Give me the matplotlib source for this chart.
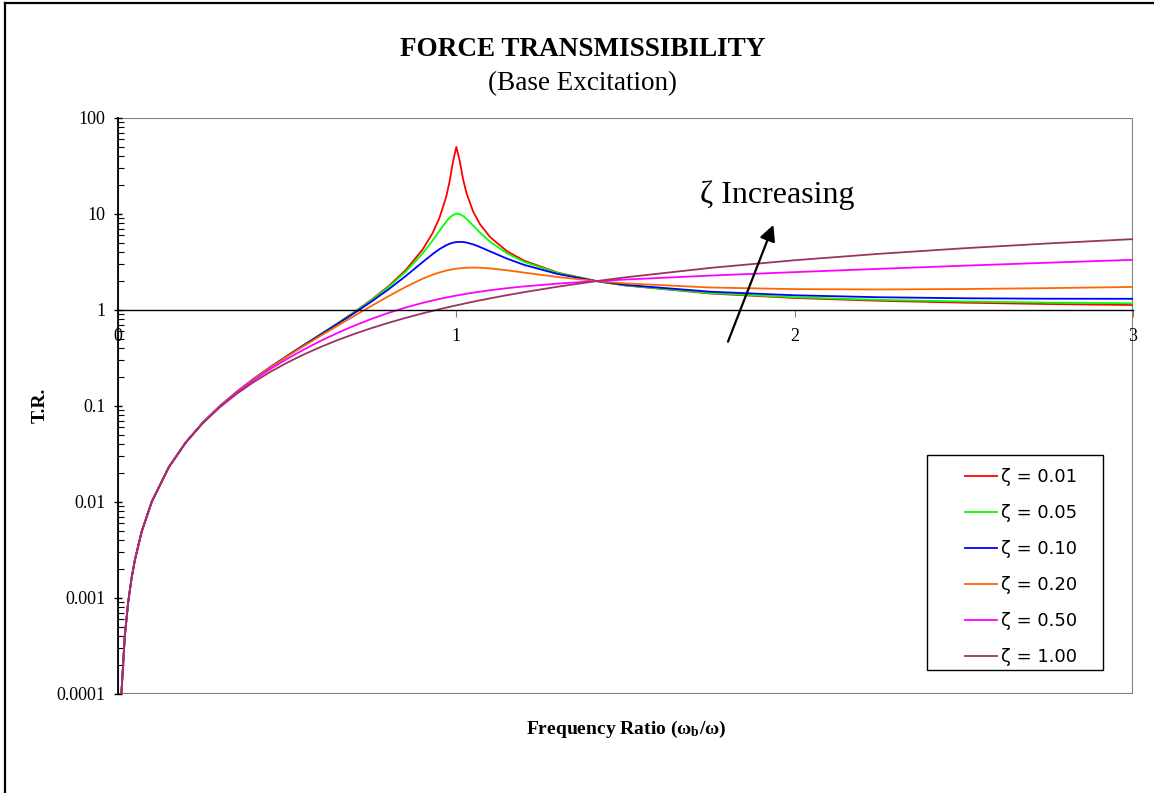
import numpy as np
import matplotlib.pyplot as plt
from matplotlib.patches import Rectangle
from matplotlib.lines import Line2D
from matplotlib.ticker import LogLocator, FixedLocator, FixedFormatter

plt.rcParams['mathtext.fontset'] = 'custom'
plt.rcParams['mathtext.rm'] = 'Liberation Serif'
plt.rcParams['mathtext.bf'] = 'Liberation Serif:bold'
plt.rcParams['mathtext.it'] = 'Liberation Serif:italic'

# frequency ratio values used for every curve
ratio = [0.01, 0.02, 0.03, 0.04, 0.05, 0.07, 0.1, 0.15, 0.2, 0.25, 0.3, 0.35, 0.4, 0.45,
         0.5, 0.55, 0.6, 0.65, 0.7, 0.75, 0.8, 0.85, 0.9, 0.93, 0.95, 0.97, 0.98, 0.99,
         1.0, 1.01, 1.02, 1.03, 1.05, 1.07, 1.1, 1.15, 1.2, 1.3, 1.414, 1.5, 1.75, 2.0,
         2.25, 2.5, 2.75, 3.0]

# transmissibility, one list per damping ratio
tr_001 = [0.0001, 0.0004, 0.0009, 0.0016, 0.0025, 0.00492, 0.0101, 0.0230, 0.0417, 0.0667,
          0.0989, 0.1396, 0.1905, 0.2539, 0.3333, 0.4337, 0.5624, 0.7315, 0.9605, 1.285,
          1.776, 2.599, 4.245, 6.343, 9.087, 15.13, 21.74, 34.92, 50.01, 35.81, 22.99,
          16.51, 10.54, 7.818, 5.732, 4.090, 3.269, 2.448, 2.0, 1.800, 1.486, 1.334, 1.247,
          1.192, 1.154, 1.127]
tr_005 = [0.0001, 0.0004, 0.0009, 0.0016, 0.0025, 0.00492, 0.0101, 0.0230, 0.0417, 0.0667,
          0.0989, 0.1396, 0.1904, 0.2538, 0.3330, 0.4330, 0.5611, 0.7285, 0.9542, 1.271,
          1.741, 2.498, 3.868, 5.296, 6.660, 8.323, 9.130, 9.753, 10.05, 9.956, 9.533,
          8.913, 7.555, 6.392, 5.135, 3.888, 3.180, 2.427, 2.0, 1.807, 1.502, 1.357, 1.275,
          1.226, 1.194, 1.174]
tr_010 = [0.0001, 0.0004, 0.0009, 0.0016, 0.0025, 0.00492, 0.0101, 0.0230, 0.0417, 0.0667,
          0.0989, 0.1395, 0.1902, 0.2533, 0.3321, 0.4310, 0.5568, 0.7197, 0.9355, 1.230,
          1.645, 2.252, 3.145, 3.827, 4.302, 4.726, 4.894, 5.021, 5.099, 5.127, 5.106,
          5.042, 4.821, 4.530, 4.074, 3.426, 2.955, 2.368, 2.0, 1.827, 1.551, 1.423, 1.358,
          1.325, 1.311, 1.308]
tr_020 = [0.0001, 0.0004, 0.0009, 0.0016, 0.0025, 0.00492, 0.0101, 0.0230, 0.0417, 0.0666,
          0.0988, 0.1392, 0.1895, 0.2517, 0.3285, 0.4235, 0.5416, 0.6893, 0.8746, 1.107,
          1.395, 1.739, 2.115, 2.332, 2.461, 2.572, 2.618, 2.659, 2.693, 2.720, 2.741,
          2.755, 2.766, 2.756, 2.712, 2.591, 2.453, 2.205, 2.0, 1.892, 1.716, 1.650, 1.637,
          1.654, 1.690, 1.738]
tr_050 = [0.0001, 0.0004, 0.0009, 0.0016, 0.0025, 0.00492, 0.0101, 0.0230, 0.0416, 0.0664,
          0.0981, 0.1374, 0.1852, 0.2425, 0.3101, 0.3887, 0.4786, 0.5796, 0.6906, 0.8098,
          0.9343, 1.061, 1.185, 1.257, 1.304, 1.349, 1.371, 1.393, 1.414, 1.435, 1.456,
          1.476, 1.515, 1.553, 1.606, 1.688, 1.760, 1.883, 2.0, 2.077, 2.282, 2.481, 2.684,
          2.894, 3.110, 3.331]
tr_100 = [0.0001, 0.0004, 0.0009, 0.0016, 0.0025, 0.00492, 0.0101, 0.0230, 0.0414, 0.0658,
          0.0963, 0.1332, 0.1766, 0.2266, 0.2828, 0.3453, 0.4135, 0.4871, 0.5658, 0.6490,
          0.7363, 0.8273, 0.9215, 0.9794, 1.019, 1.058, 1.078, 1.098, 1.118, 1.138, 1.158,
          1.179, 1.220, 1.261, 1.323, 1.428, 1.534, 1.750, 2.0, 2.189, 2.744, 3.299, 3.849,
          4.396, 4.937, 5.475]

series = [tr_001, tr_005, tr_010, tr_020, tr_050, tr_100]
labels = ['\u03b6 = 0.01', '\u03b6 = 0.05', '\u03b6 = 0.10', '\u03b6 = 0.20', '\u03b6 = 0.50', '\u03b6 = 1.00']
colors = ['#FF0000', '#00FF00', '#0000FF', '#FF6600', '#FF00FF', '#993366']

serif = 'Liberation Serif'
W, H = 1154, 793

fig = plt.figure(figsize=(11.54, 7.93), dpi=100)
ax = fig.add_axes([118/W, 1 - 694/H, (1133 - 118)/W, (694 - 118)/H])

for vals, lab, col in zip(series, labels, colors):
    ax.plot(ratio, vals, color=col, lw=1.3, label=lab)

ax.set_yscale('log')
ax.set_ylim(0.0001, 100)
ax.set_xlim(0, 3)

# grey frame, black left axis, x axis crossing at T.R. = 1
ax.add_patch(Rectangle((0, 0), 1, 1, transform=ax.transAxes, fill=False,
                       edgecolor='#808080', lw=1.5, zorder=0.5))
for s in ['top', 'right']:
    ax.spines[s].set_visible(False)
ax.spines['left'].set_color('black')
ax.spines['left'].set_linewidth(1.3)
ax.spines['bottom'].set_position(('data', 1))
ax.spines['bottom'].set_color('black')
ax.spines['bottom'].set_linewidth(1.0)

ax.xaxis.set_major_locator(FixedLocator([0, 1, 2, 3]))
ax.xaxis.set_major_formatter(FixedFormatter(['0', '1', '2', '3']))
ax.tick_params(axis='x', direction='out', length=5, color='#808080', pad=8,
               labelsize=13)
ax.yaxis.set_minor_locator(LogLocator(base=10, subs=np.arange(2, 10), numticks=10))
ax.tick_params(axis='y', which='major', direction='inout', length=6, width=1,
               labelsize=13, pad=6)
ax.tick_params(axis='y', which='minor', direction='in', length=4, width=0.8)
ax.set_yticks([0.0001, 0.001, 0.01, 0.1, 1, 10, 100])
ax.set_yticklabels(['0.0001', '0.001', '0.01', '0.1', '1', '10', '100'])
for t in ax.get_xticklabels() + ax.get_yticklabels():
    t.set_family(serif)

fig.text(40/W, 1 - 405/H, 'T.R.', family=serif, fontweight='bold', fontsize=14,
         rotation=90, ha='center', va='center')
fig.text(626/W, 1 - 729/H, r'Frequency Ratio ($\mathbf{\omega_b}$/$\mathbf{\omega}$)',
         family=serif, fontweight='bold', fontsize=14, ha='center', va='center')

fig.text(583/W, 1 - 50/H, 'FORCE TRANSMISSIBILITY', family=serif,
         fontweight='bold', fontsize=19.5, ha='center', va='center')
fig.text(583/W, 1 - 84/H, '(Base Excitation)', family=serif,
         fontsize=19.5, ha='center', va='center')

ax.annotate('', xy=(1.94, 8.2), xytext=(1.80, 0.44),
            arrowprops=dict(arrowstyle='-|>', color='black', lw=1.6,
                            mutation_scale=24))
ax.text(1.95, 15.8, '\u03b6 Increasing', family=serif, fontsize=23,
        ha='center', va='center')

# legend entries without frame, box drawn separately underneath
leg = ax.legend(loc='upper left', bbox_to_anchor=(965/W, 1 - 468/H),
                bbox_transform=fig.transFigure, frameon=False, fontsize=13,
                handlelength=1.78, labelspacing=1.0, borderpad=0,
                handletextpad=0.2, borderaxespad=0)
leg.set_zorder(6)
ax.add_patch(Rectangle((927/W, 1 - 670/H), 176/W, 215/H, transform=fig.transFigure,
                       fill=True, facecolor='white', edgecolor='black', lw=1.0,
                       zorder=5, clip_on=False))

# outer chart border (only left and top edges show)
fig.add_artist(Line2D([5/W, 5/W], [0, 1 - 3/H], color='black', lw=1.6))
fig.add_artist(Line2D([5/W, 1], [1 - 3/H, 1 - 3/H], color='black', lw=1.6))

fig.savefig('out.png', dpi=100)
